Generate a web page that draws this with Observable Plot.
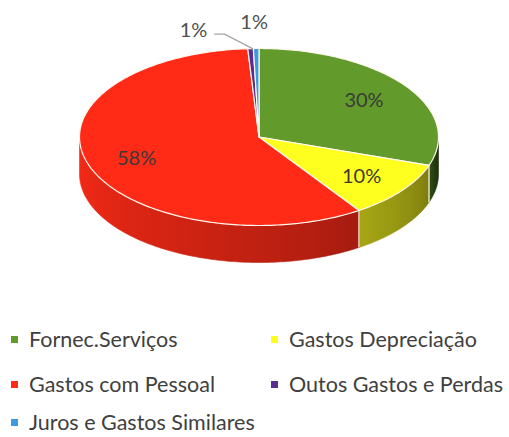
<!DOCTYPE html>
<html><head><meta charset="utf-8">
<script src="https://cdn.jsdelivr.net/npm/d3@7"></script>
<script src="https://cdn.jsdelivr.net/npm/@observablehq/plot@0.6"></script>
<style>
body{margin:0;background:#fff;font-family:Lato,"Open Sans",sans-serif;}
#wrap{position:relative;width:509px;height:437px;overflow:hidden;background:#fff}
#legend{position:absolute;left:0;top:290px;width:509px;height:147px}
.item{position:absolute;display:flex;align-items:center;height:22px;font-size:21.5px;color:#404040;white-space:nowrap;line-height:22px}
.sw{width:7px;height:7px;margin-right:11px;flex:none}
</style></head><body><div id="wrap"><div id="chart"></div><div id="legend"></div></div>
<script>
// ---- data ----
const categories = ["Fornec.Serviços", "Gastos Depreciação", "Gastos com Pessoal", "Outos Gastos e Perdas", "Juros e Gastos Similares"];
const values = [30.2, 10.4, 58.4, 0.5, 0.5];
const colors = ["#629b2c", "#ffff1f", "#ff2b17", "#5b2d90", "#3c9be0"];
const labels = values.map(v => Math.round(v) + "%");

// ---- layout ----
const W = 509, H = 290;
const CX = 258.5, RX = 179.5, CY = 136.5, RY = 88.5, DEPTH = 37;
const D = DEPTH / RY;
const total = d3.sum(values);
let acc = 0;
const slices = values.map((v, i) => {
  const a0 = acc / total * 360; acc += v; const a1 = acc / total * 360;
  return {i, a0, a1, mid: (a0 + a1) / 2, color: colors[i], label: labels[i], value: v};
});
const rad = d => d * Math.PI / 180;
const px = t => Math.sin(rad(t)), py = t => -Math.cos(rad(t));
const shade = (c, b) => { const k = d3.rgb(c); return d3.rgb(k.r * b, k.g * b, k.b * b).formatHex(); };
const bright = t => 0.3 + 0.66 * Math.pow(Math.max(0, (t - 90) / 180), 0.55);

// top faces
const tops = [];
for (const s of slices) {
  const id = "top" + s.i;
  tops.push({id, x: 0, y: 0, col: s.color});
  const n = Math.max(2, Math.ceil(s.a1 - s.a0));
  for (let k = 0; k <= n; k++) { const t = s.a0 + (s.a1 - s.a0) * k / n; tops.push({id, x: px(t), y: py(t), col: s.color}); }
}
// side walls (front half only), one polygon per slice
const sideMarks = [];
const sideSlices = [];
for (const s of slices) {
  const b0 = Math.max(s.a0, 90), b1 = Math.min(s.a1, 270);
  if (b1 <= b0) continue;
  const n = Math.max(2, Math.ceil(b1 - b0));
  const pts = [];
  for (let k = 0; k <= n; k++) { const t = b0 + (b1 - b0) * k / n; pts.push({x: px(t), y: py(t)}); }
  for (let k = n; k >= 0; k--) { const t = b0 + (b1 - b0) * k / n; pts.push({x: px(t), y: py(t) + D}); }
  sideSlices.push(s);
  sideMarks.push(Plot.line(pts, {x: "x", y: "y", fill: `url(#side${s.i})`, stroke: `url(#side${s.i})`, strokeWidth: 0.6, curve: "linear-closed"}));
}
// white edges on the side at slice boundaries
const sideEdges = slices.filter(s => s.a1 > 90 && s.a1 < 270)
  .map(s => ({x1: px(s.a1), y1: py(s.a1), x2: px(s.a1), y2: py(s.a1) + D}));

// labels
const bigLabels = slices.filter(s => s.value >= 5)
  .map(s => ({x: 0.72 * px(s.mid), y: 0.72 * py(s.mid), text: s.label}));
const smallSlices = slices.filter(s => s.value < 5);
const smallLayout = [{dx: -57, dy: -18, leader: true}, {dx: -2, dy: -26, leader: false}];
const smallLabels = smallSlices.map((s, k) => {
  const L = smallLayout[k] || {dx: 0, dy: -26};
  return {ax: px(s.mid), ay: py(s.mid), x: px(s.mid) + L.dx / RX, y: py(s.mid) + L.dy / RY, text: s.label, leader: L.leader};
});
const leaders = [];
smallLabels.forEach((l, k) => {
  if (!l.leader) return;
  leaders.push({id: k, x: l.x + 21 / RX, y: l.y + 3.5 / RY},
               {id: k, x: l.x + 31 / RX, y: l.y + 3.5 / RY},
               {id: k, x: l.ax + 2 / RX, y: l.ay});
});

const chart = Plot.plot({
  width: W, height: H, margin: 0,
  x: {domain: [-1, 1], range: [CX - RX, CX + RX], axis: null},
  y: {domain: [-1, 1], range: [CY - RY, CY + RY], axis: null},
  color: {type: "identity"},
  style: {background: "white"},
  marks: [
    ...sideMarks,
    Plot.link(sideEdges, {x1: "x1", y1: "y1", x2: "x2", y2: "y2", stroke: "#fff6ee", strokeWidth: 1.2}),
    Plot.line(tops, {x: "x", y: "y", z: "id", fill: "col", stroke: "#fff8f0", strokeWidth: 1.2, curve: "linear-closed"}),
    Plot.line(leaders, {x: "x", y: "y", z: "id", stroke: "#a6a6a6", strokeWidth: 1.2}),
    Plot.text(bigLabels, {x: "x", y: "y", text: "text", dy: 1, fontSize: 20, fontFamily: "Lato", fill: "#3a3a3a"}),
    Plot.text(smallLabels, {x: "x", y: "y", text: "text", fontSize: 20, fontFamily: "Lato", fill: "#505050"})
  ]
});
// horizontal shading gradients for the side walls
const defs = d3.select(chart).insert("defs", ":first-child");
for (const s of sideSlices) {
  const g = defs.append("linearGradient").attr("id", `side${s.i}`)
    .attr("gradientUnits", "userSpaceOnUse")
    .attr("x1", CX - RX).attr("x2", CX + RX).attr("y1", 0).attr("y2", 0);
  for (let k = 0; k <= 40; k++) {
    const o = k / 40, xu = -1 + 2 * o;
    const th = 180 - Math.asin(xu) * 180 / Math.PI;
    g.append("stop").attr("offset", o).attr("stop-color", shade(s.color, bright(th)));
  }
}
document.getElementById("chart").appendChild(chart);

// legend
const legend = document.getElementById("legend");
const legendPos = [[11, 339], [271, 339], [11, 384], [271, 384], [11, 422]];
categories.forEach((c, i) => {
  const [lx, ly] = legendPos[i];
  const it = document.createElement("div");
  it.className = "item";
  it.style.left = lx + "px";
  it.style.top = (ly - 11 - 290) + "px";
  const sw = document.createElement("span"); sw.className = "sw"; sw.style.background = colors[i];
  const tx = document.createElement("span"); tx.textContent = c;
  it.appendChild(sw); it.appendChild(tx);
  legend.appendChild(it);
});
</script>
</body></html>
